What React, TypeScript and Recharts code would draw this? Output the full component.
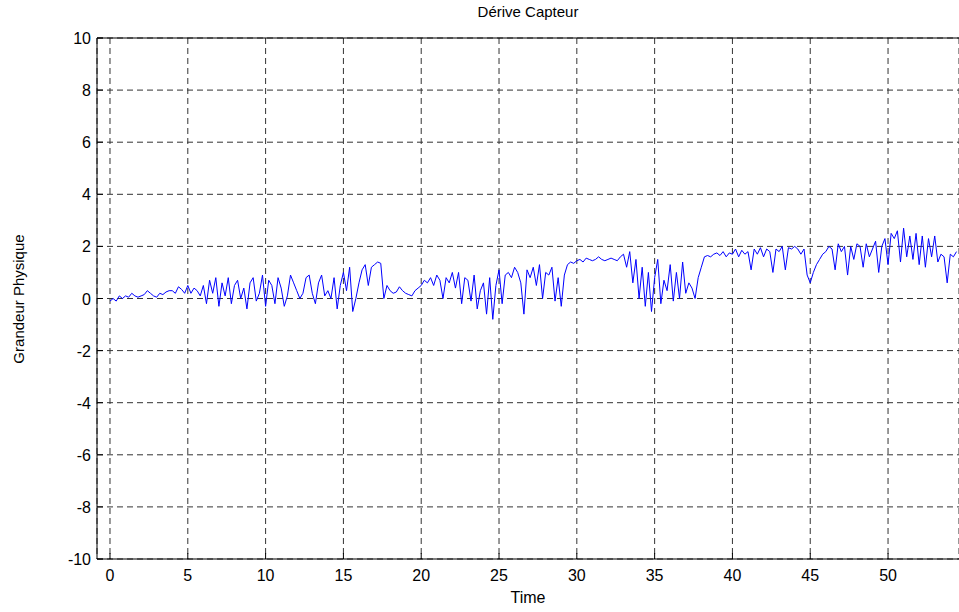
import React from 'react';
import {
  LineChart,
  Line,
  XAxis,
  YAxis,
  CartesianGrid,
  ReferenceLine
} from 'recharts';

// sample spacing of the recorded signal (s)
const STEP = 0.2;

// sensor reading, 5 samples per time unit
const drift: number[] = [
  -0.1, 0.0, -0.1, 0.1, 0.0,
  0.1, 0.05, 0.2, 0.1, 0.05,
  0.1, 0.15, 0.3, 0.2, 0.1,
  0.05, 0.2, 0.15, 0.25, 0.3,
  0.3, 0.2, 0.45, 0.35, 0.2,
  0.5, 0.2, 0.4, 0.3, 0.1,
  0.5, -0.2, 0.7, 0.2, 0.8,
  -0.3, 0.6, 0.1, 0.8, -0.2,
  0.5, 0.7, 0.0, 0.4, -0.4,
  0.6, 0.8, -0.1, 0.2, 0.9,
  -0.3, 0.7, 0.5, -0.2, 0.8,
  0.4, -0.3, 0.1, 0.9, 0.6,
  0.3, 0.0, 0.2, 0.8, 0.9,
  0.2, -0.2, 0.6, 0.9, 0.1,
  0.3, 0.0, 0.8, -0.4, 0.5,
  1.0, 0.3, 1.2, -0.5, 0.0,
  0.6, 1.1, 1.3, 0.5, 1.2,
  1.3, 1.4, 1.35, 0.0, 0.5,
  0.3, 0.2, 0.25, 0.45, 0.3,
  0.2, 0.15, 0.1, 0.3, 0.4,
  0.5, 0.7, 0.6, 0.8, 0.5,
  0.9, 0.7, 0.0, 0.8, 0.6,
  1.0, 0.4, 1.0, -0.2, 0.8,
  0.7, -0.1, 0.9, -0.4, 0.3,
  0.6, -0.6, 0.8, -0.8, 0.5,
  1.1, -0.2, 0.9, 1.0, 0.8,
  1.2, 1.0, 0.6, -0.6, 1.1,
  0.8, 1.2, 0.5, 1.3, 0.0,
  1.0, 0.9, 1.2, -0.1, 0.8,
  -0.3, 0.9, 1.3, 1.4, 1.35,
  1.45, 1.5, 1.4, 1.55, 1.5,
  1.45, 1.5, 1.6, 1.5, 1.45,
  1.5, 1.55, 1.5, 1.45, 1.6,
  1.7, 1.2, 1.8, 0.6, 1.5,
  0.0, 1.2, -0.3, 1.0, -0.5,
  0.8, 1.5, -0.2, 0.7, 0.3,
  1.3, -0.1, 1.0, 0.0, 1.4,
  0.2, 0.6, 0.4, 0.0, 0.8,
  1.2, 1.6, 1.65, 1.6, 1.7,
  1.75, 1.65, 1.8, 1.6, 1.75,
  1.7, 1.9, 1.6, 1.85, 1.7,
  1.8, 1.1, 1.9, 1.7, 1.95,
  1.6, 1.9, 1.8, 1.0, 1.9,
  1.8, 2.0, 1.1, 1.95, 1.9,
  2.0, 1.9, 1.7, 1.9, 0.9,
  0.6, 1.0, 1.3, 1.5, 1.7,
  1.8, 2.0, 1.9, 1.1, 2.1,
  1.8, 2.0, 0.9, 2.0, 1.5,
  2.1, 2.0, 1.2, 2.1, 1.6,
  1.9, 2.2, 1.0, 2.0, 2.3,
  1.3, 2.5, 2.3, 2.6, 1.4,
  2.7, 1.6, 2.4, 1.5, 2.5,
  1.3, 2.4, 1.2, 2.3, 1.6,
  2.4, 1.4, 1.7, 1.6, 0.6,
  1.7, 1.6, 1.8
];

const xTicks = [0, 5, 10, 15, 20, 25, 30, 35, 40, 45, 50];
const yTicks = [-10, -8, -6, -4, -2, 0, 2, 4, 6, 8, 10];

const data = drift.map((v, i) => ({ t: +(i * STEP).toFixed(1), v }));

const W = 959;
const H = 612;
const PLOT_LEFT = 97;
const PLOT_TOP = 38;
const PLOT_BOTTOM = 559;
const FONT = '"Liberation Sans", Arial, sans-serif';

const YTick = (props: any) => {
  const { y, payload } = props;
  return (
    <g>
      <line x1={PLOT_LEFT} x2={PLOT_LEFT + 6} y1={y} y2={y} stroke="#000" />
      <text x={PLOT_LEFT - 6} y={y} dy={6} textAnchor="end" fontSize={16} fill="#000" fontFamily={FONT}>
        {payload.value}
      </text>
    </g>
  );
};

const XTick = (props: any) => {
  const { x, payload } = props;
  return (
    <g>
      <line x1={x} x2={x} y1={PLOT_BOTTOM} y2={PLOT_BOTTOM - 6} stroke="#000" />
      <text x={x} y={PLOT_BOTTOM + 22} textAnchor="middle" fontSize={16} fill="#000" fontFamily={FONT}>
        {payload.value}
      </text>
    </g>
  );
};

export default function App() {
  return (
    <div style={{ position: 'absolute', left: 0, top: 0, width: W, height: H, background: '#fff', fontFamily: FONT }}>
      <div style={{ position: 'absolute', top: 3, left: PLOT_LEFT, width: W - PLOT_LEFT, textAlign: 'center', fontSize: 15 }}>
        Dérive Capteur
      </div>
      <div style={{ position: 'absolute', top: 589, left: PLOT_LEFT, width: W - PLOT_LEFT, textAlign: 'center', fontSize: 16 }}>
        Time
      </div>
      <div
        style={{
          position: 'absolute',
          left: 18,
          top: (PLOT_TOP + PLOT_BOTTOM) / 2,
          transform: 'translate(-50%, -50%) rotate(-90deg)',
          whiteSpace: 'nowrap',
          fontSize: 15
        }}
      >
        Grandeur Physique
      </div>
      <LineChart
        width={W}
        height={H}
        data={data}
        margin={{ top: PLOT_TOP, right: 0, bottom: 0, left: 0 }}
      >
        <CartesianGrid stroke="#333" strokeDasharray="6 4" />
        <XAxis
          dataKey="t"
          type="number"
          domain={[-0.835, 54.56]}
          allowDataOverflow
          ticks={xTicks}
          height={H - PLOT_BOTTOM}
          tickLine={false}
          tick={<XTick />}
          axisLine={{ stroke: '#000' }}
          interval={0}
        />
        <YAxis
          type="number"
          domain={[-10, 10]}
          ticks={yTicks}
          width={PLOT_LEFT}
          tickLine={false}
          tick={<YTick />}
          axisLine={{ stroke: '#000' }}
          interval={0}
        />
        <ReferenceLine y={10} stroke="#000" />
        <Line
          type="linear"
          dataKey="v"
          stroke="#0000ff"
          strokeWidth={1}
          dot={false}
          isAnimationActive={false}
        />
      </LineChart>
    </div>
  );
}
